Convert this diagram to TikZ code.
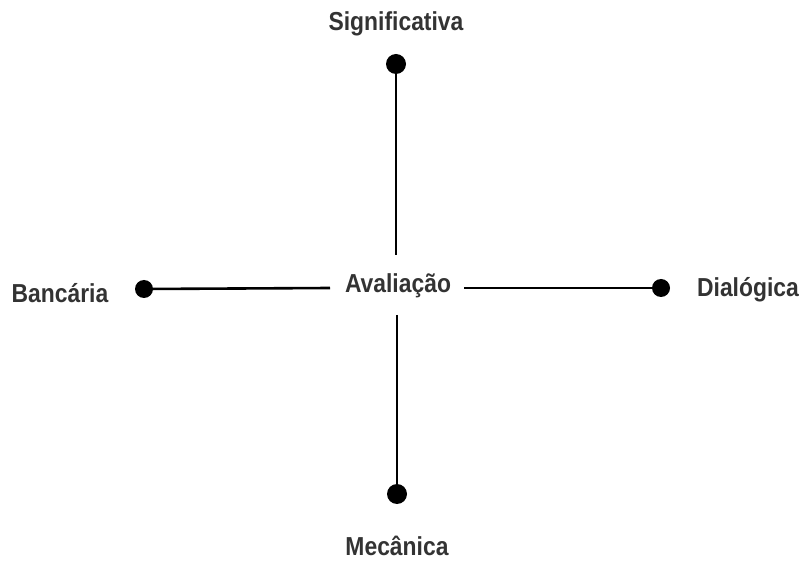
\documentclass[tikz,border=0pt]{standalone}
\usepackage{fontspec}
\setmainfont{Liberation Sans}[FakeStretch=0.88]
\definecolor{txt}{HTML}{333333}
\begin{document}
\begin{tikzpicture}[x=1pt,y=-1pt,
  lbl/.style={font=\fontsize{26}{30}\selectfont\bfseries, text=txt, inner sep=0pt},
  ln/.style={line width=2.6pt, black},
  dotn/.style={circle, fill=black, minimum size=20pt, inner sep=0pt}]
\useasboundingbox (0,0) rectangle (804,561);
\node[lbl] (sig) at (396,24) {Significativa};
\node[lbl] (ban) at (60,293) {Bancária};
\node[lbl] (dia) at (748,290) {Dialógica};
\node[lbl] (mec) at (397,546) {Mecânica};
\node[lbl] (ava) at (398,286) {Avaliação};
\node[dotn] (dt) at (396,64) {};
\node[dotn] (db) at (397,494) {};
\node[dotn, minimum size=18pt] (dl) at (144,289) {};
\node[dotn, minimum size=18pt] (dr) at (661,288) {};
\coordinate (vt) at (396,255);
\coordinate (vb) at (397,315);
\coordinate (hl) at (330,288);
\coordinate (hr) at (464,288);
\draw[ln] (dt.center) -- (vt);
\draw[ln] (vb) -- (db.center);
\draw[ln] (dl.center) -- (hl);
\draw[ln] (hr) -- (dr.center);
\end{tikzpicture}
\end{document}
